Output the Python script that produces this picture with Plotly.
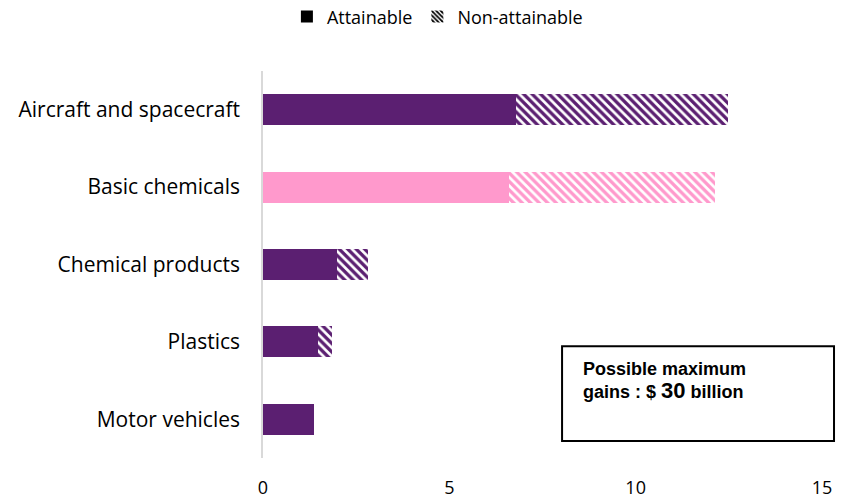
import plotly.graph_objects as go

# Gains by industry ($ billion)
industries = ["Aircraft and spacecraft", "Basic chemicals", "Chemical products", "Plastics", "Motor vehicles"]
attainable = [6.78, 6.6, 1.98, 1.47, 1.37]
non_attainable = [5.69, 5.52, 0.84, 0.38, 0.0]
bar_colors = ["#5B1F71", "#FF99CC", "#5B1F71", "#5B1F71", "#5B1F71"]
x_ticks = [0, 5, 10, 15]

FONT = "Open Sans"

fig = go.Figure()

fig.add_trace(go.Bar(
    y=industries, x=attainable, orientation="h",
    marker=dict(color=bar_colors, line=dict(width=0)),
    showlegend=False, name="Attainable",
))
fig.add_trace(go.Bar(
    y=industries, x=non_attainable, orientation="h",
    marker=dict(
        color=bar_colors, line=dict(width=0),
        pattern=dict(shape="\\", fgcolor=bar_colors, bgcolor="white",
                     size=6, solidity=0.55, fillmode="replace", fgopacity=1),
    ),
    showlegend=False, name="Non-attainable",
))

# legend keys drawn in black
fig.add_trace(go.Bar(
    y=[None], x=[None], orientation="h", name="Attainable",
    marker=dict(color="black", line=dict(width=0)),
))
fig.add_trace(go.Bar(
    y=[None], x=[None], orientation="h", name="Non-attainable",
    marker=dict(color="black", line=dict(width=0),
                pattern=dict(shape="\\", fgcolor="black", bgcolor="white",
                             size=4, solidity=0.55, fillmode="replace")),
))

fig.update_layout(
    width=850, height=499,
    margin=dict(l=263, r=28, t=71, b=41, autoexpand=False),
    barmode="stack", bargap=0.6,
    plot_bgcolor="white", paper_bgcolor="white",
    font=dict(family=FONT, size=21, color="black"),
    legend=dict(orientation="h", x=0.312, xanchor="center", y=1.14, yanchor="middle",
                font=dict(family=FONT, size=18), traceorder="normal",
                itemwidth=30, tracegroupgap=0),
    xaxis=dict(range=[0, 15], tickvals=x_ticks, showgrid=False, zeroline=False,
               showline=False, ticks="", ticklabelstandoff=17, automargin=False,
               tickfont=dict(family=FONT, size=18)),
    yaxis=dict(autorange="reversed", showgrid=False, zeroline=False,
               showline=True, linecolor="#D9D9D9", linewidth=1.5,
               ticks="", ticklabelstandoff=17, automargin=False,
               tickfont=dict(family=FONT, size=21)),
)

# note box
fig.add_shape(type="rect", xref="paper", yref="paper",
              x0=0.535, x1=1.0215, y0=0.044, y1=0.289,
              line=dict(color="black", width=2), fillcolor="white", layer="above")
fig.add_annotation(
    xref="paper", yref="paper", x=0.568, y=0.198, xanchor="left", yanchor="middle",
    align="left", showarrow=False,
    text="<b>Possible maximum<br>gains : $ <span style='font-size:22px'>30</span> billion</b>",
    font=dict(family="Liberation Sans", size=18, color="black"),
)

fig.write_html("out.html")
